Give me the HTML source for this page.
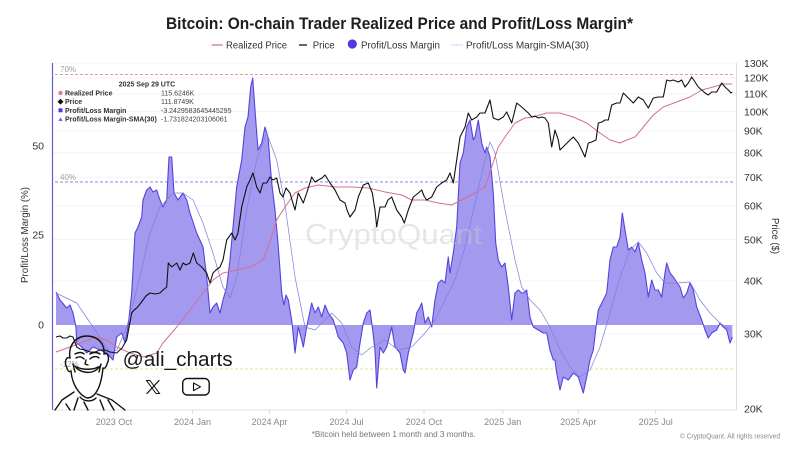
<!DOCTYPE html>
<html><head><meta charset="utf-8"><style>
html,body{margin:0;padding:0;background:#fff;}
svg{display:block;font-family:"Liberation Sans",Arial,sans-serif;}
</style></head><body>
<svg width="800" height="450" viewBox="0 0 800 450" xmlns="http://www.w3.org/2000/svg">
<rect width="800" height="450" fill="#fff"/>
<!-- Title -->
<text x="166" y="29" font-size="16.5" font-weight="bold" fill="#1e1e1e" textLength="467" lengthAdjust="spacingAndGlyphs">Bitcoin: On-chain Trader Realized Price and Profit/Loss Margin*</text>
<!-- Legend -->
<line x1="211.7" y1="45" x2="222.7" y2="45" stroke="#d889a6" stroke-width="1.5"/>
<text x="226" y="48.5" font-size="10" fill="#333" textLength="61" lengthAdjust="spacingAndGlyphs">Realized Price</text>
<line x1="299" y1="45" x2="307" y2="45" stroke="#333" stroke-width="1.5"/>
<text x="312.7" y="48.5" font-size="10" fill="#333" textLength="22" lengthAdjust="spacingAndGlyphs">Price</text>
<circle cx="352.3" cy="44" r="4.6" fill="#4b3be0"/>
<text x="361" y="48.5" font-size="10" fill="#333" textLength="79" lengthAdjust="spacingAndGlyphs">Profit/Loss Margin</text>
<line x1="451.7" y1="45" x2="463.3" y2="45" stroke="#a9a2ee" stroke-width="1" stroke-dasharray="1,1"/>
<text x="466" y="48.5" font-size="10" fill="#333" textLength="123" lengthAdjust="spacingAndGlyphs">Profit/Loss Margin-SMA(30)</text>

<!-- gridlines -->
<g stroke="#f0f0f0" stroke-width="0.8">
<line x1="53" y1="63.1" x2="736" y2="63.1"/>
<line x1="53" y1="77.9" x2="736" y2="77.9"/>
<line x1="53" y1="94" x2="736" y2="94"/>
<line x1="53" y1="111.6" x2="736" y2="111.6"/>
<line x1="53" y1="131" x2="736" y2="131"/>
<line x1="53" y1="152.8" x2="736" y2="152.8"/>
<line x1="53" y1="177.5" x2="736" y2="177.5"/>
<line x1="53" y1="206" x2="736" y2="206"/>
<line x1="53" y1="239.7" x2="736" y2="239.7"/>
<line x1="53" y1="280.9" x2="736" y2="280.9"/>
<line x1="53" y1="334.1" x2="736" y2="334.1"/>
</g>
<!-- axes -->
<line x1="53" y1="410" x2="736" y2="410" stroke="#e2e2e2" stroke-width="1"/>
<line x1="736.5" y1="63" x2="736.5" y2="410" stroke="#dcdcdc" stroke-width="1"/>
<line x1="52.5" y1="63" x2="52.5" y2="410" stroke="#6b5ad6" stroke-width="1.2"/>
<g stroke="#dcdcdc" stroke-width="1">
<line x1="114" y1="410" x2="114" y2="414"/><line x1="192.5" y1="410" x2="192.5" y2="414"/>
<line x1="269.5" y1="410" x2="269.5" y2="414"/><line x1="346.5" y1="410" x2="346.5" y2="414"/>
<line x1="424" y1="410" x2="424" y2="414"/><line x1="502.7" y1="410" x2="502.7" y2="414"/>
<line x1="578.3" y1="410" x2="578.3" y2="414"/><line x1="655.7" y1="410" x2="655.7" y2="414"/>
</g>

<!-- reference dashed lines -->
<line x1="55" y1="74.5" x2="733" y2="74.5" stroke="#e6999f" stroke-width="0.9" stroke-dasharray="3,2"/>
<text x="60" y="72" font-size="8" fill="#a0a0a0">70%</text>
<line x1="55" y1="182" x2="733" y2="182" stroke="#8e83e6" stroke-width="0.9" stroke-dasharray="3,2"/>
<text x="60" y="180" font-size="8" fill="#a0a0a0">40%</text>
<line x1="55" y1="369" x2="733" y2="369" stroke="#efdc8a" stroke-width="0.9" stroke-dasharray="3,2"/>
<text x="60" y="367" font-size="8" fill="#a0a0a0">-12%</text>

<!-- margin fill -->
<path fill="#a39af0" stroke="none" d="M56,325 L56,292 L60,300 L66.7,308 L70,305 L73,313 L76,327 L76.7,343 L81.7,347 L86.7,353 L93,347 L100,350 L106.7,353 L113,360 L116.7,337 L121.7,333 L125,343 L128,327 L131.7,293 L135,233 L138,227 L141.7,217 L143,200 L146.7,190 L150,187 L153,192 L156.7,190 L160,200 L163,207 L166.7,200 L169,157 L171.7,157 L174,193 L178,200 L183,193 L186.7,200 L190,213 L196.7,233 L203,247 L206.7,277 L210,313 L213,307 L216.7,303 L220,313 L223,300 L226.7,287 L230,260 L236.7,187 L241.7,160 L245,127 L248,117 L250.7,87 L252.7,78 L255,110 L258,150 L261.7,143 L265,127 L268,137 L271.7,183 L275,210 L278,243 L281.7,293 L284,305 L286,295 L288.3,300 L291.7,320 L295,353 L298.3,327 L301.7,340 L303.3,347 L306.7,327 L311.7,303 L315,313 L318.3,307 L321.7,317 L325,305 L328.3,313 L333.3,320 L338.3,337 L343.3,343 L346.7,353 L350,380 L353.3,370 L356.7,367 L360,343 L363.3,323 L366.7,313 L370,310 L372.3,327 L375,350 L376.7,388 L380,347 L383.3,353 L386.7,347 L391.7,327 L395,347 L400,353 L403.3,370 L405,373 L408.3,353 L413.3,333 L416.7,313 L420,307 L421.7,303 L425,323 L428.3,317 L431.7,327 L435,300 L438.3,283 L441.7,280 L445,283 L448.3,257 L450,273 L453.3,253 L456.7,227 L460,163 L463.3,153 L466.7,127 L470,120 L473.3,140 L475,137 L478.3,120 L481.7,143 L485,153 L486.7,147 L490,157 L493.3,193 L495.7,243 L498.3,260 L501.7,267 L505,263 L508.3,287 L511.7,320 L515,293 L518.3,290 L521.7,293 L523.3,293 L526.7,290 L530,317 L533.3,327 L538.3,330 L543.3,333 L546.7,333 L550,350 L553.3,360 L555,360 L556.7,373 L560,390 L563.3,377 L568.3,380 L573.3,373 L578.3,377 L583.3,393 L586.7,377 L590,360 L593.3,350 L596,327 L598.3,310 L603.3,300 L606.7,293 L610,260 L613.3,247 L616.7,247 L620,237 L622.3,213 L625,230 L628.3,250 L631.7,247 L635,252 L638.3,243 L641.7,260 L645,273 L648.3,297 L651.7,280 L655,290 L658.3,290 L661.7,297 L665,273 L666.7,263 L670,273 L673.3,277 L676.7,282 L680,287 L683.3,298 L686.7,293 L690,283 L693.3,290 L696.7,307 L701.7,320 L705,330 L708.3,338 L711.7,333 L716.7,330 L720,323 L723.3,327 L726.7,330 L730,343 L732.3,337 L732.3,325 Z"/>
<!-- margin line -->
<polyline fill="none" stroke="#5443dc" stroke-width="1.1" stroke-linejoin="round" points="56,292 60,300 66.7,308 70,305 73,313 76,327 76.7,343 81.7,347 86.7,353 93,347 100,350 106.7,353 113,360 116.7,337 121.7,333 125,343 128,327 131.7,293 135,233 138,227 141.7,217 143,200 146.7,190 150,187 153,192 156.7,190 160,200 163,207 166.7,200 169,157 171.7,157 174,193 178,200 183,193 186.7,200 190,213 196.7,233 203,247 206.7,277 210,313 213,307 216.7,303 220,313 223,300 226.7,287 230,260 236.7,187 241.7,160 245,127 248,117 250.7,87 252.7,78 255,110 258,150 261.7,143 265,127 268,137 271.7,183 275,210 278,243 281.7,293 284,305 286,295 288.3,300 291.7,320 295,353 298.3,327 301.7,340 303.3,347 306.7,327 311.7,303 315,313 318.3,307 321.7,317 325,305 328.3,313 333.3,320 338.3,337 343.3,343 346.7,353 350,380 353.3,370 356.7,367 360,343 363.3,323 366.7,313 370,310 372.3,327 375,350 376.7,388 380,347 383.3,353 386.7,347 391.7,327 395,347 400,353 403.3,370 405,373 408.3,353 413.3,333 416.7,313 420,307 421.7,303 425,323 428.3,317 431.7,327 435,300 438.3,283 441.7,280 445,283 448.3,257 450,273 453.3,253 456.7,227 460,163 463.3,153 466.7,127 470,120 473.3,140 475,137 478.3,120 481.7,143 485,153 486.7,147 490,157 493.3,193 495.7,243 498.3,260 501.7,267 505,263 508.3,287 511.7,320 515,293 518.3,290 521.7,293 523.3,293 526.7,290 530,317 533.3,327 538.3,330 543.3,333 546.7,333 550,350 553.3,360 555,360 556.7,373 560,390 563.3,377 568.3,380 573.3,373 578.3,377 583.3,393 586.7,377 590,360 593.3,350 596,327 598.3,310 603.3,300 606.7,293 610,260 613.3,247 616.7,247 620,237 622.3,213 625,230 628.3,250 631.7,247 635,252 638.3,243 641.7,260 645,273 648.3,297 651.7,280 655,290 658.3,290 661.7,297 665,273 666.7,263 670,273 673.3,277 676.7,282 680,287 683.3,298 686.7,293 690,283 693.3,290 696.7,307 701.7,320 705,330 708.3,338 711.7,333 716.7,330 720,323 723.3,327 726.7,330 730,343 732.3,337"/>
<!-- SMA -->
<polyline fill="none" stroke="#8479de" stroke-width="0.7" stroke-linejoin="round" points="56,293 76.7,303 93,327 110,353 117,350 126.7,327 136.7,290 150,233 160,207 173,193 183,193 193,200 203,223 213,253 223,287 230,298 236.7,277 246.7,210 256.7,160 266.7,133 276.7,160 285,205 295,277 305,327 315,330 331.7,313 341.7,323 351.7,347 361.7,355 371.7,347 385,340 398.3,350 411.7,347 425,333 435,320 445,300 455,280 465,247 475,203 485,160 490,142 495,153 505,210 515,260 521.7,287 530,300 540,310 550,327 560,350 570,367 580,377 590,370 600,347 610,313 620,277 630,250 638.3,242 646.7,253 656.7,273 665,283 676.7,283 690,282 700,300 710,313 720,323 730,330"/>
<!-- Realized price -->
<polyline fill="none" stroke="#d2708f" stroke-width="1" stroke-linejoin="round" points="56,352 70,347 83,342 96.7,337 106.7,340 116.7,347 130,353 143,357 156.7,353 163,343 176.7,327 190,310 203,293 213,280 223,273 236.7,270 250,267 263,260 270,242 276.7,220 285,207 295,193 305,188 318.3,185 335,187 351.7,187 368.3,188 385,192 401.7,195 411.7,200 425,200 438.3,203 451.7,205 461.7,200 475,193 485,187 491.7,167 498.3,147 505,137 515,123 525,118 533.3,117 546.7,113 560,113 573.3,117 586.7,123 600,133 610,140 620,143 626.7,140 635,137 643.3,127 653.3,115 663.3,107 676.7,102 690,97 701.7,90 713.3,87 723.3,84 732.3,84"/>
<!-- Price -->
<polyline fill="none" stroke="#111" stroke-width="1.1" stroke-linejoin="round" points="56,337 60,336 63,338 66.7,338 70,336 73,337 76.7,347 80,349 85,350 90,352 95,352 100,350 105,350 110,352 116.7,353 122,348 126.7,340 131.7,313 134,310 136.7,308 140,304 143,300 146,296 150,293 155,294 160,293 163,290 166.7,287 168.3,263 171.7,267 176.7,263 180,270 183,263 186,265 190,263 193.3,253 196.7,263 201.7,267 206.7,273 210,283 213,273 216,270 220,267 223,260 226.7,240 231.7,233 235,240 238,233 241.7,207 246.7,187 250,180 253,173 256.7,187 260,193 263,183 266.7,183 270,177 273,180 276.7,178 280,193 283,197 286,188 290,193 292,200 295,210 298.3,193 303.3,203 306.7,193 311.7,177 315,182 318.3,180 322,178 325,175 330,183 335,190 340,200 345,203 347,210 350,217 355,210 358.3,197 363.3,185 368.3,183 372.3,193 375,210 376.7,227 380,207 385,207 388,200 391.7,197 396.7,210 401.7,217 404.3,223 408.3,210 413.3,197 418.3,193 421.7,190 424,196 426.7,200 431.7,197 436.7,187 441.7,183 446.7,180 450,173 453.3,183 456.7,160 460,137 465,127 468.3,113 471.7,120 476.7,117 480,113 485,113 490,100 493.3,118 498.3,120 503.3,117 506.7,112 511.7,123 516.7,103 521.7,107 525,110 528.3,113 531.7,117 535,116 538.3,118 542,117 545,118 548.3,123 551.7,147 555,130 558.3,140 560,150 565,145 570,140 573.3,137 578.3,143 581.7,150 585,157 588.3,143 591.7,142 596,140 598.3,123 602,122 605,120 608.3,120 611.7,105 616.7,103 620,103 623.3,93 628.3,98 633.3,103 638.3,97 643.3,100 648.3,108 653.3,98 658.3,97 663.3,97 666.7,80 670,81 673.3,80 678.3,82 681.7,80 685,87 688.3,83 691.7,77 695,82 698.3,87 701.7,90 705,93 708.3,95 711.7,92 716.7,92 721.7,83 725,87 728.3,90 731,93 732.3,92"/>

<!-- Watermark -->
<text x="305" y="244" font-size="29" fill="#c8c8c8" fill-opacity="0.45" textLength="177" lengthAdjust="spacingAndGlyphs">CryptoQuant</text>

<!-- Tooltip -->
<text x="147" y="86.5" font-size="7" font-weight="bold" fill="#333" text-anchor="middle">2025 Sep 29 UTC</text>
<circle cx="60.5" cy="93" r="2.2" fill="#dc7c9b"/>
<text x="65" y="95.5" font-size="7" font-weight="bold" fill="#333">Realized Price</text>
<text x="161" y="95.5" font-size="7" fill="#444">115.6246K</text>
<rect x="58.4" y="99.6" width="4.2" height="4.2" fill="#111" transform="rotate(45 60.5 101.7)"/>
<text x="65" y="104.2" font-size="7" font-weight="bold" fill="#333">Price</text>
<text x="161" y="104.2" font-size="7" fill="#444">111.8749K</text>
<rect x="58.5" y="108.3" width="4" height="4" fill="#4b3be0"/>
<text x="65" y="112.8" font-size="7" font-weight="bold" fill="#333">Profit/Loss Margin</text>
<text x="161" y="112.8" font-size="7" fill="#444">-3.2429583645445295</text>
<polygon points="60.5,117.3 62.6,121 58.4,121" fill="#6d5fe0"/>
<text x="65" y="121.5" font-size="7" font-weight="bold" fill="#333">Profit/Loss Margin-SMA(30)</text>
<text x="161" y="121.5" font-size="7" fill="#444">-1.731824203106061</text>

<!-- Left axis labels -->
<text x="44" y="149.5" font-size="10.5" fill="#333" text-anchor="end">50</text>
<text x="44" y="238.5" font-size="10.5" fill="#333" text-anchor="end">25</text>
<text x="44" y="328.5" font-size="10.5" fill="#333" text-anchor="end">0</text>
<text x="0" y="0" font-size="10" fill="#333" text-anchor="middle" transform="translate(28 235) rotate(-90)" textLength="96" lengthAdjust="spacingAndGlyphs">Profit/Loss Margin (%)</text>

<!-- Right axis labels -->
<g font-size="10.5" fill="#333">
<text x="744" y="67">130K</text>
<text x="744" y="81.5">120K</text>
<text x="744" y="97.5">110K</text>
<text x="744" y="115.5">100K</text>
<text x="744" y="134.5">90K</text>
<text x="744" y="156.5">80K</text>
<text x="744" y="181">70K</text>
<text x="744" y="209.5">60K</text>
<text x="744" y="243.5">50K</text>
<text x="744" y="284.5">40K</text>
<text x="744" y="337.5">30K</text>
<text x="744" y="412.5">20K</text>
</g>
<text x="0" y="0" font-size="10" fill="#333" text-anchor="middle" transform="translate(772 236) rotate(90)" textLength="36" lengthAdjust="spacingAndGlyphs">Price ($)</text>

<!-- X axis labels -->
<g font-size="9" fill="#888" text-anchor="middle">
<text x="114" y="425">2023 Oct</text>
<text x="192.5" y="425">2024 Jan</text>
<text x="269.5" y="425">2024 Apr</text>
<text x="346.5" y="425">2024 Jul</text>
<text x="424" y="425">2024 Oct</text>
<text x="502.7" y="425">2025 Jan</text>
<text x="578.3" y="425">2025 Apr</text>
<text x="655.7" y="425">2025 Jul</text>
</g>
<text x="311.7" y="437" font-size="8.5" fill="#777" textLength="164" lengthAdjust="spacingAndGlyphs">*Bitcoin held between 1 month and 3 months.</text>
<text x="680" y="438.5" font-size="7" fill="#888" textLength="100" lengthAdjust="spacingAndGlyphs">© CryptoQuant. All rights reserved</text>

<!-- Face caricature (line art) -->
<g fill="none" stroke="#111" stroke-width="1.4" stroke-linecap="round" stroke-linejoin="round">
<path d="M70,358 C68,345 76,336 87,336 C98,336 105,344 104,354"/>
<path d="M70,358 C66,356 64,362 67,368 C68,372 70,372 71,371"/>
<path d="M104,354 C108,352 110,358 107,364 C106,368 104,369 103,368"/>
<path d="M71,371 C72,384 79,395 87,398 C95,398 101,388 103,368"/>
<path d="M75,366 C80,374 94,375 100,366"/>
<path d="M77,367 C82,370 93,370 98,367"/>
<path d="M76,358 C79,356 82,357 84,359"/>
<path d="M90,359 C93,356 97,356 99,358"/>
<path d="M75,354 C79,352 82,352 84,354"/>
<path d="M90,354 C93,352 97,352 100,354"/>
<path d="M86,360 L85,364 L88,365"/>
<path d="M73,364 L75,372"/>
<path d="M101,364 L99,372"/>
<path d="M74,392 L62,400 L55,410"/>
<path d="M80,397 C84,402 92,402 96,398"/>
<path d="M97,394 L112,400 L125,410"/>
<path d="M66,404 L70,410"/>
<path d="M100,400 L104,410"/>
<path d="M84,402 L88,410"/>
<path d="M78,398 L74,410"/>
<path d="M108,400 L114,410"/>
</g>

<!-- @ali_charts -->
<text x="122.7" y="366" font-size="20" fill="#1a1a1a" textLength="110" lengthAdjust="spacingAndGlyphs">@ali_charts</text>
<!-- X logo -->
<g stroke="#111" fill="none" stroke-linecap="round">
<path d="M146.5,380.5 L150,380.5 L159.5,393.5 L156,393.5 Z" stroke-width="1"/>
<line x1="159" y1="380.5" x2="147" y2="393.5" stroke-width="1.2"/>
</g>
<!-- YouTube logo -->
<rect x="182.7" y="378.5" width="26.5" height="16.5" rx="4.5" fill="none" stroke="#111" stroke-width="1.4"/>
<polygon points="193.5,383 200.5,386.8 193.5,390.6" fill="none" stroke="#111" stroke-width="1.1" stroke-linejoin="round"/>
</svg>
</body></html>
